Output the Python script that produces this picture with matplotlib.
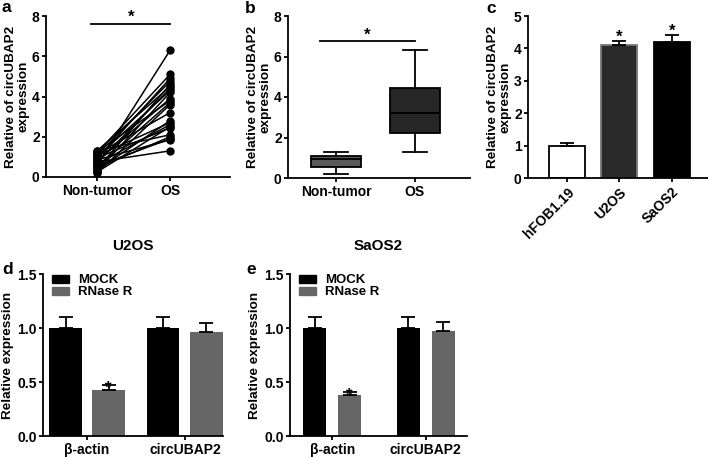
import matplotlib
matplotlib.use("Agg")
import matplotlib.pyplot as plt
import numpy as np
from matplotlib.patches import Patch

plt.rcParams['font.family'] = ['Liberation Sans', 'DejaVu Sans']
plt.rcParams['font.weight'] = 'bold'
plt.rcParams['axes.labelweight'] = 'bold'
plt.rcParams['axes.titleweight'] = 'bold'
plt.rcParams['axes.linewidth'] = 1.3
plt.rcParams['xtick.major.width'] = 1.3
plt.rcParams['ytick.major.width'] = 1.3
plt.rcParams['xtick.major.size'] = 3
plt.rcParams['ytick.major.size'] = 3
plt.rcParams['xtick.major.pad'] = 2
plt.rcParams['ytick.major.pad'] = 1.5

TICK = 10
YLAB = 9.7

# panel a / b data
groups_ab = ['Non-tumor', 'OS']
nontumor = [0.6, 1.2, 0.9, 1.1, 0.4, 1.3, 0.7, 1.0, 0.3, 0.8, 1.25, 0.5,
            0.2, 1.15, 0.35, 1.05, 0.65, 0.25, 0.95, 1.3, 0.45, 0.55, 0.85, 0.75]
os_vals = [6.3, 5.1, 4.9, 4.75, 4.6, 4.5, 4.4, 4.3, 4.2, 3.9, 3.8, 3.7,
           3.6, 3.2, 2.8, 2.7, 2.6, 2.5, 2.45, 2.1, 2.0, 1.9, 1.85, 1.3]
# box stats: whislo, q1, med, q3, whishi
box_nontumor = [0.2, 0.55, 0.95, 1.1, 1.3]
box_os = [1.3, 2.2, 3.2, 4.45, 6.3]

# panel c
cells = ['hFOB1.19', 'U2OS', 'SaOS2']
cell_mean = [1.0, 4.1, 4.2]
cell_err = [0.08, 0.13, 0.22]

# panels d / e
genes = ['β-actin', 'circUBAP2']
u2os_mock = [1.0, 1.0]
u2os_mock_err = [0.1, 0.1]
u2os_rnase = [0.43, 0.96]
u2os_rnase_err = [0.04, 0.09]
saos2_mock = [1.0, 1.0]
saos2_mock_err = [0.1, 0.1]
saos2_rnase = [0.38, 0.97]
saos2_rnase_err = [0.03, 0.09]

W, H = 708, 457
fig = plt.figure(figsize=(W / 100, H / 100), dpi=100)


def ax_px(left, right, top, bottom):
    return fig.add_axes([left / W, (H - bottom) / H, (right - left) / W, (bottom - top) / H])


def style(ax):
    ax.spines['top'].set_visible(False)
    ax.spines['right'].set_visible(False)
    ax.tick_params(labelsize=TICK)


ylab = 'Relative of circUBAP2\nexpression'

# ---- a
ax = ax_px(46, 230, 16, 177)
for n, o in zip(nontumor, os_vals):
    ax.plot([0, 1], [n, o], color='black', lw=1.1, marker='o', ms=5)
ax.set_xlim(-0.70, 1.82)
ax.set_ylim(0, 8)
ax.set_yticks([0, 2, 4, 6, 8])
ax.set_xticks([0, 1])
ax.set_xticklabels(groups_ab)
ax.plot([-0.08, 1], [7.6, 7.6], color='black', lw=1.3)
ax.text(0.46, 7.55, '*', ha='center', va='bottom', fontsize=12)
ax.set_ylabel(ylab, fontsize=YLAB, labelpad=2, linespacing=1.0)
style(ax)
fig.text(2 / W, (H - 12) / H, 'a', fontsize=12.5, fontweight='bold')

# ---- b
ax = ax_px(288, 470, 16, 178)
stats = []
for vals, lab in zip([box_nontumor, box_os], groups_ab):
    stats.append(dict(whislo=vals[0], q1=vals[1], med=vals[2], q3=vals[3], whishi=vals[4], label=lab))
bp = ax.bxp(stats, positions=[0, 1], widths=0.63, patch_artist=True, showfliers=False,
            boxprops=dict(lw=1.3, color='black'), medianprops=dict(color='black', lw=1.3),
            whiskerprops=dict(lw=1.3), capprops=dict(lw=1.3), capwidths=0.3)
bp['boxes'][0].set_facecolor('#5a5a5a')
bp['boxes'][1].set_facecolor('#262626')
ax.set_xlim(-0.61, 1.70)
ax.set_ylim(0, 8)
ax.set_yticks([0, 2, 4, 6, 8])
ax.set_xticks([0, 1])
ax.set_xticklabels(groups_ab)
ax.plot([-0.2, 1], [6.75, 6.75], color='black', lw=1.3)
ax.text(0.4, 6.7, '*', ha='center', va='bottom', fontsize=12)
ax.set_ylabel(ylab, fontsize=YLAB, labelpad=2, linespacing=1.0)
style(ax)
fig.text(245 / W, (H - 13) / H, 'b', fontsize=12.5, fontweight='bold')

# ---- c
ax = ax_px(528, 708, 16, 178)
xc = np.arange(len(cells))
ax.bar(xc, cell_mean, width=0.68, color=['white', '#2a2a2a', 'black'],
       edgecolor=['black', '#777777', 'black'], lw=1.3)
ax.errorbar(xc, cell_mean, yerr=[np.zeros(3), cell_err], fmt='none', ecolor='black',
            elinewidth=1.3, capsize=5, capthick=1.3)
for x, m, e in zip(xc[1:], cell_mean[1:], cell_err[1:]):
    ax.text(x, m + e - 0.12, '*', ha='center', va='bottom', fontsize=12)
ax.set_xlim(-0.74, 2.69)
ax.set_ylim(0, 5)
ax.set_yticks(range(6))
ax.set_xticks(xc)
ax.set_xticklabels(cells, rotation=45, ha='right', rotation_mode='anchor')
ax.set_ylabel(ylab, fontsize=YLAB, labelpad=2, linespacing=1.0)
style(ax)
fig.text(486 / W, (H - 13) / H, 'c', fontsize=12.5, fontweight='bold')


# ---- d / e
def rnase_panel(ax, mock, mock_err, rnase, rnase_err, title, off, bw, xl):
    xg = np.arange(len(genes))
    ax.bar(xg - off, mock, width=bw, color='black', label='MOCK')
    ax.bar(xg + off, rnase, width=bw, color='#666666', label='RNase R')
    ax.errorbar(xg - off, mock, yerr=[np.zeros(2), mock_err], fmt='none', ecolor='black',
                elinewidth=1.3, capsize=5, capthick=1.3)
    ax.errorbar(xg + off, rnase, yerr=[np.zeros(2), rnase_err], fmt='none', ecolor='black',
                elinewidth=1.3, capsize=5, capthick=1.3)
    ax.text(off, rnase[0] + rnase_err[0] - 0.1, '*', ha='center', va='bottom', fontsize=12)
    ax.set_xlim(*xl)
    ax.set_ylim(0, 1.5)
    ax.set_yticks([0, 0.5, 1.0, 1.5])
    ax.set_yticklabels(['0.0', '0.5', '1.0', '1.5'])
    ax.set_xticks(xg)
    ax.set_xticklabels(genes)
    ax.set_ylabel('Relative expression', fontsize=YLAB, labelpad=2)
    ax.set_title(title, fontsize=11, pad=17)
    handles = [Patch(color='black', label='MOCK'), Patch(color='#666666', label='RNase R')]
    ax.legend(handles=handles, loc='upper left', bbox_to_anchor=(0.02, 1.03), frameon=False,
              prop=dict(size=9.5, weight='bold'), handlelength=1.3, handleheight=0.55,
              handletextpad=0.7, labelspacing=0.0, borderaxespad=0)
    style(ax)


ax = ax_px(43, 223, 274, 436)
rnase_panel(ax, u2os_mock, u2os_mock_err, u2os_rnase, u2os_rnase_err, 'U2OS', 0.22, 0.33, (-0.45, 1.39))
fig.text(2 / W, (H - 274) / H, 'd', fontsize=12.5, fontweight='bold')

ax = ax_px(290, 467, 274, 436)
rnase_panel(ax, saos2_mock, saos2_mock_err, saos2_rnase, saos2_rnase_err, 'SaOS2', 0.187, 0.25, (-0.45, 1.44))
fig.text(246 / W, (H - 274) / H, 'e', fontsize=12.5, fontweight='bold')

fig.savefig('out.png', dpi=100)
